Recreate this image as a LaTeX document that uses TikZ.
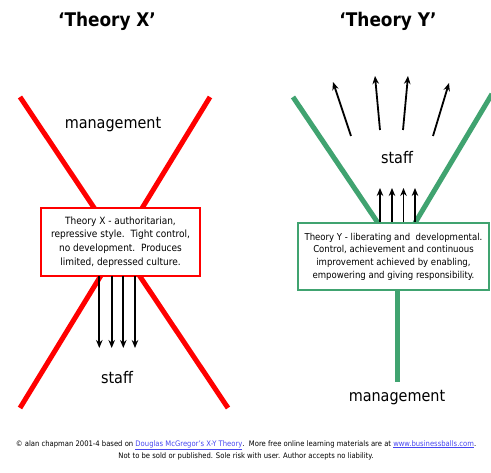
\documentclass[tikz,border=0pt]{standalone}
\usepackage{fontspec}
\setmainfont{DejaVu Sans Condensed}
\usetikzlibrary{arrows.meta}
\definecolor{xred}{RGB}{255,0,0}
\definecolor{ygreen}{RGB}{64,163,112}
\definecolor{linkblue}{RGB}{70,70,240}
\tikzset{
  heading/.style={font=\bfseries\fontsize{18.8}{22}\selectfont, inner sep=0pt},
  label/.style={font=\fontsize{16}{19}\selectfont, inner sep=0pt},
  redbar/.style={draw=xred, line width=5pt},
  greenbar/.style={draw=ygreen, line width=5pt},
  xbox/.style={draw=xred, line width=2pt, fill=white, minimum width=159pt, minimum height=68pt,
    inner sep=0pt, align=center, font=\fontsize{10}{13.7}\selectfont},
  ybox/.style={draw=ygreen, line width=2pt, fill=white, minimum width=191pt, minimum height=67pt,
    inner sep=0pt, align=center, font=\fontsize{9.5}{12.7}\selectfont},
  flow/.style={draw=black, line width=1.8pt, -{Stealth[length=8pt,width=6.5pt]}},
  foot/.style={font=\fontsize{7.6}{9}\selectfont, inner sep=0pt},
}
\begin{document}
\begin{tikzpicture}[x=1pt, y=-1pt]
\useasboundingbox (0,0) rectangle (491,473);

% headings
\node[heading] (hx) at (107,21) {‘Theory X’};
\node[heading] (hy) at (388,21) {‘Theory Y’};

% Theory X: crossed red bars
\coordinate (xa1) at (20,97);
\coordinate (xa2) at (228,408);
\coordinate (xb1) at (210,97);
\coordinate (xb2) at (20,408);
\draw[redbar] (xa1) -- (xa2);
\draw[redbar] (xb1) -- (xb2);

% Theory X text box
\node[xbox] (xbox) at (120.5,242) {Theory X - authoritarian,\\ repressive style.\ \ Tight control,\\ no development.\ \ Produces\\ limited, depressed culture.};

% downward arrows to staff
\foreach \x [count=\i] in {99.3,111.7,123.3,135} {
  \coordinate (rs\i) at (\x,276);
  \coordinate (re\i) at (\x,348);
  \draw[flow] (rs\i) -- (re\i);
}
\node[label] (xman) at (113,125) {management};
\node[label] (xstaff) at (117,378) {staff};

% Theory Y: green Y shape
\coordinate (ya1) at (293,97);
\coordinate (ya2) at (378,223);
\coordinate (yb1) at (492,94);
\coordinate (yb2) at (415,223);
\coordinate (ys2) at (397,382);
\draw[greenbar] (ya1) -- (ya2);
\draw[greenbar] (yb1) -- (yb2);

\node[ybox] (ybox) at (393.5,256.5) {Theory Y - liberating and\ \ developmental.\\ Control, achievement\ and continuous\\ improvement achieved by enabling,\\ empowering and giving responsibility.};
\draw[greenbar] (ybox.south -| ys2) -- (ys2);

% upward arrows from the box
\foreach \x [count=\i] in {380,392,403.5,415} {
  \coordinate (us\i) at (\x,222);
  \coordinate (ue\i) at (\x,188);
  \draw[flow] (us\i) -- (ue\i);
}
% fanning arrows above staff
\coordinate (fs1) at (351,136); \coordinate (fe1) at (333,82);
\coordinate (fs2) at (380,130); \coordinate (fe2) at (375,76);
\coordinate (fs3) at (403,130); \coordinate (fe3) at (408,76);
\coordinate (fs4) at (433,136); \coordinate (fe4) at (449,83);
\foreach \i in {1,...,4} { \draw[flow] (fs\i) -- (fe\i); }

\node[label] (ystaff) at (397,158) {staff};
\node[label] (yman) at (397,398) {management};

% footer
\node[foot] (f1) at (246,445) {© alan chapman 2001-4 based on \textcolor{linkblue}{\underline{Douglas McGregor's X-Y Theory}}.\ \ More free online learning materials are at \textcolor{linkblue}{\underline{www.businessballs.com}}.};
\node[foot] (f2) at (246,456) {Not to be sold or published. Sole risk with user. Author accepts no liability.};
\end{tikzpicture}
\end{document}
